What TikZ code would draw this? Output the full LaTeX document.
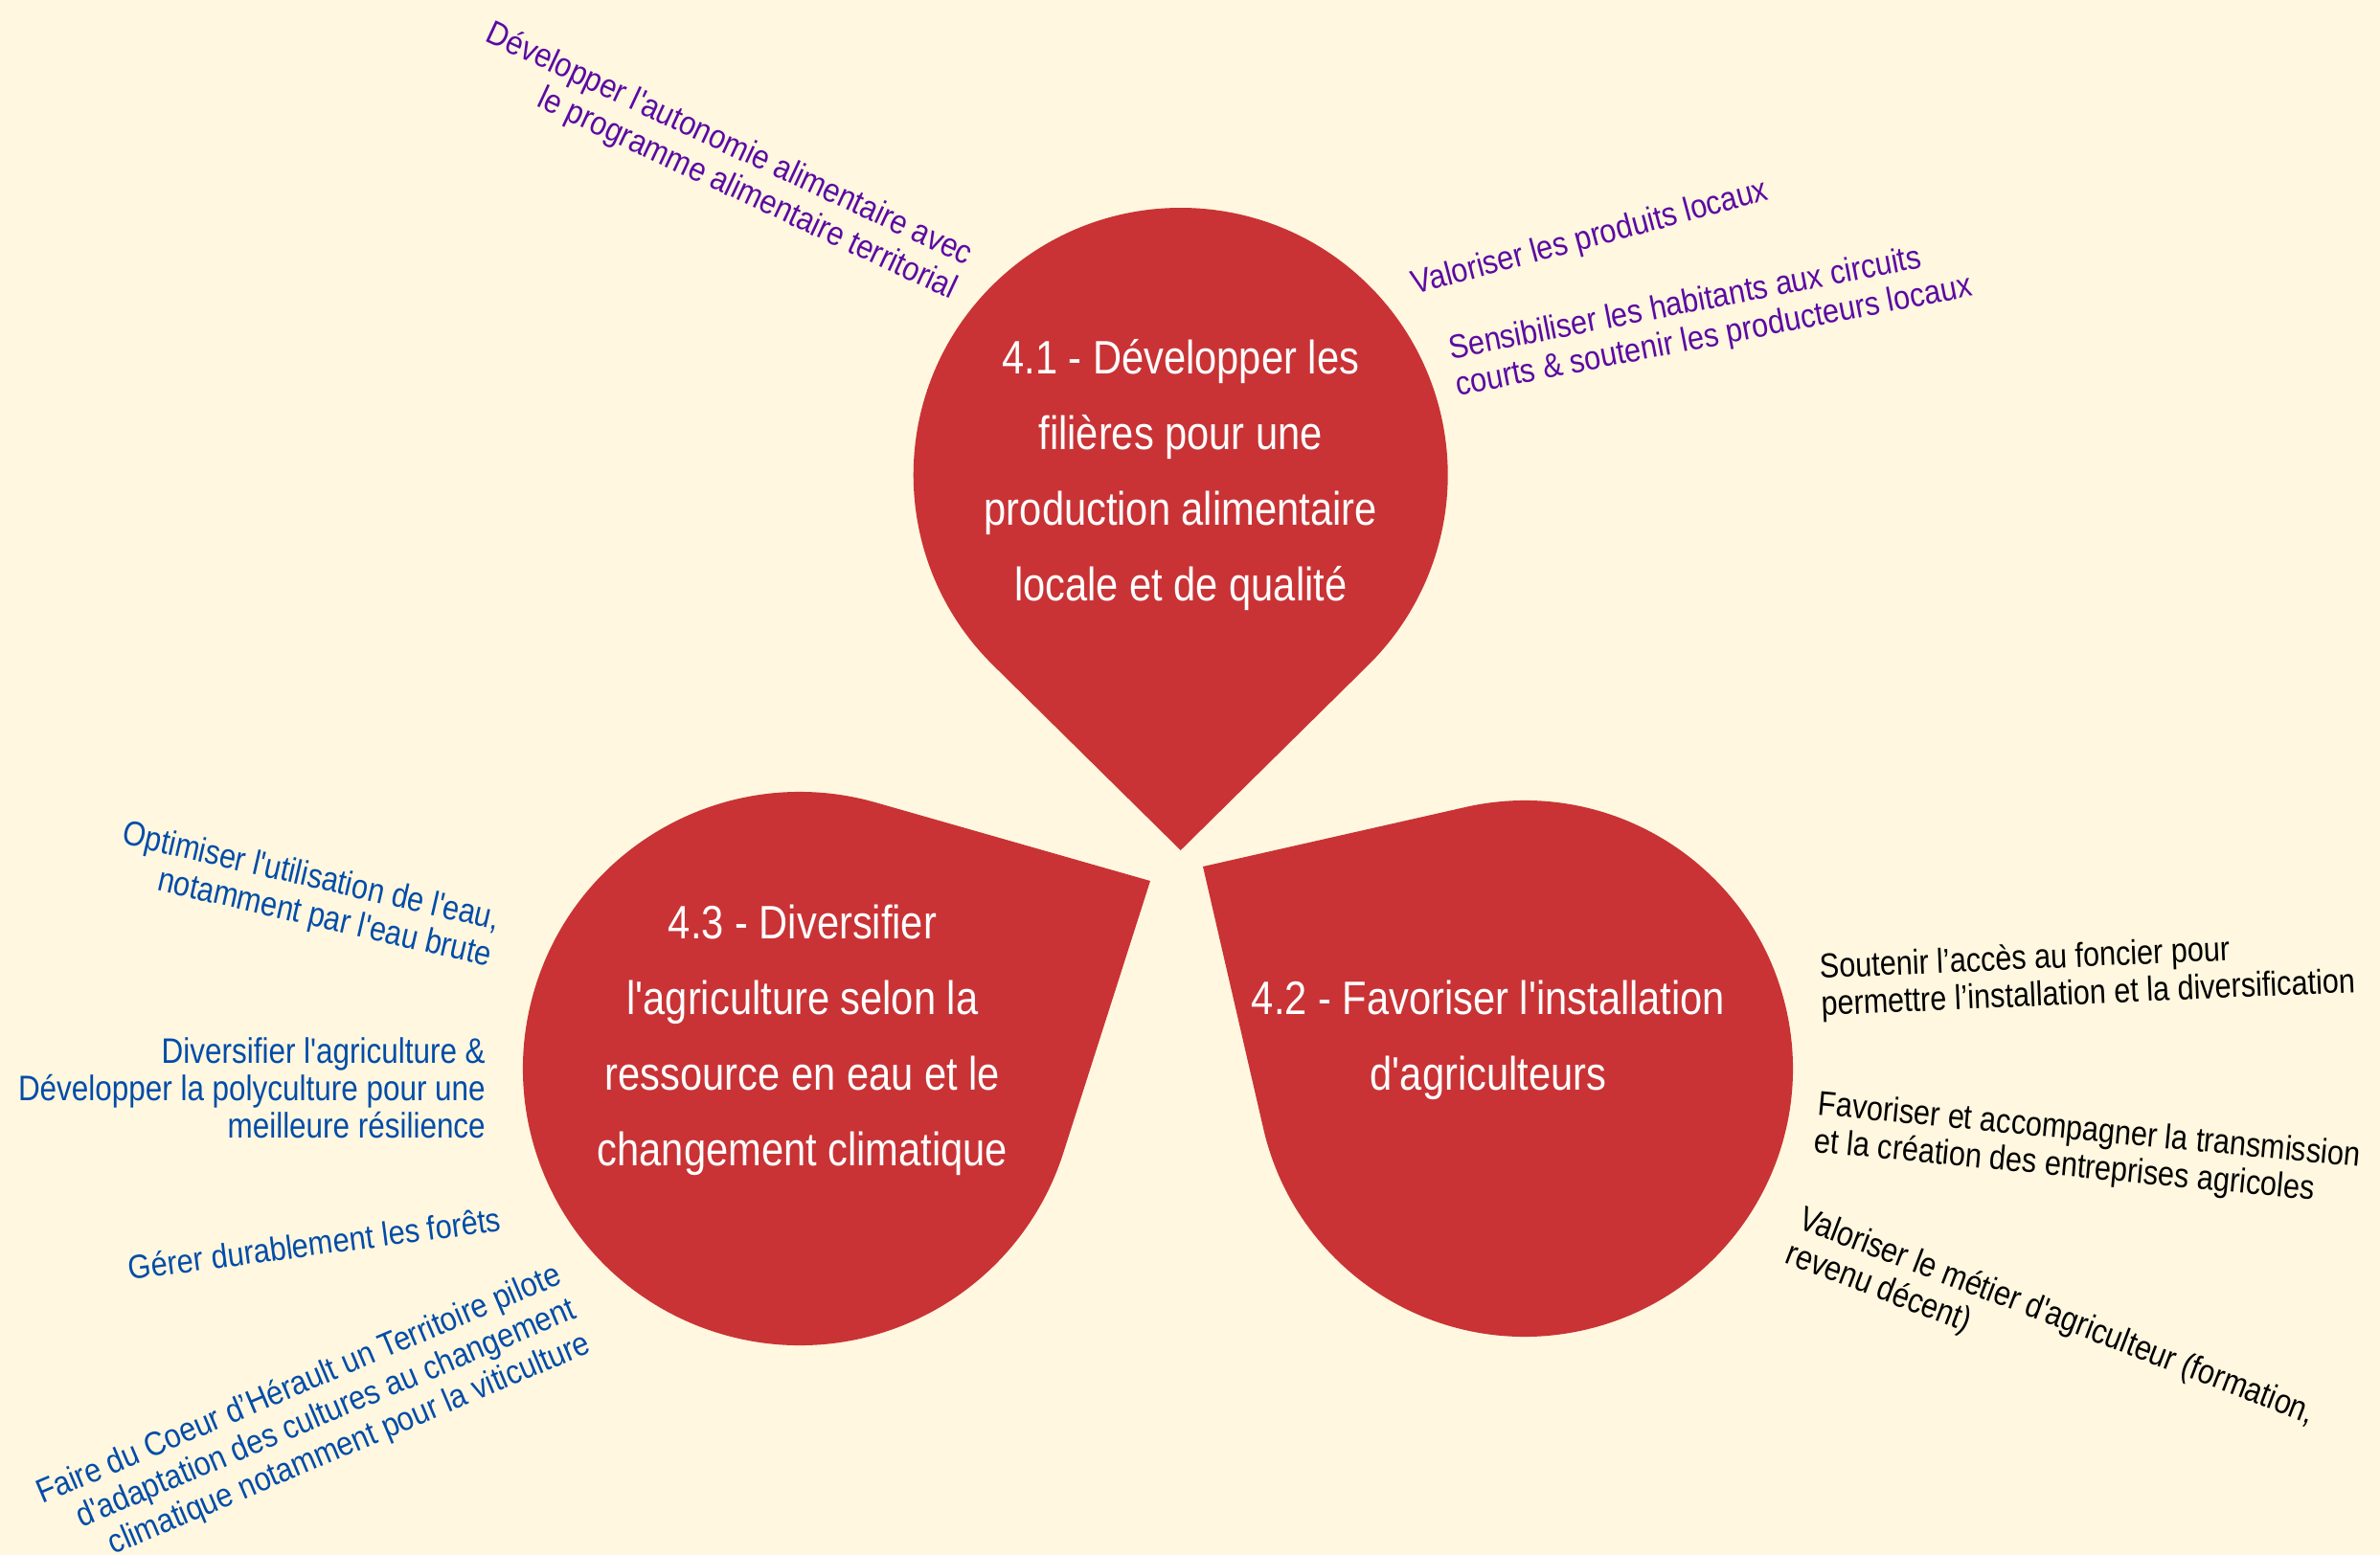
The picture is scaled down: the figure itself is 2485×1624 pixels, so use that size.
\documentclass[tikz,border=0pt]{standalone}
\usepackage{fontspec}
\setmainfont{Liberation Sans}[FakeStretch=0.85,Ligatures=TeXOff]
\newfontfamily\arialn{Liberation Sans}[FakeStretch=0.88,Ligatures=TeXOff]
\usetikzlibrary{calc}
\definecolor{bgc}{HTML}{FFF7DF}
\definecolor{dropred}{HTML}{C93335}
\definecolor{purp}{HTML}{5B0AA3}
\definecolor{blu}{HTML}{004CA8}
\tikzset{
  drop/.style={fill=dropred},
  title/.style={text=white, font=\fontsize{49}{79}\selectfont, align=center, inner sep=0pt},
  ptext/.style={text=purp, font=\arialn\fontsize{35}{39}\selectfont, inner sep=0pt},
  btext/.style={text=blu, font=\fontsize{36}{39}\selectfont, inner sep=0pt},
  batext/.style={text=blu, font=\arialn\fontsize{35}{39}\selectfont, inner sep=0pt},
  ktext/.style={text=black, font=\fontsize{36}{39}\selectfont, inner sep=0pt},
}
\begin{document}
\begin{tikzpicture}[x=1pt,y=-1pt]
\useasboundingbox (0,0) rectangle (2485,1624);
\fill[bgc] (0,0) rectangle (2485,1624);
% centres and tips of the three drops
\coordinate (C1) at (1232.7,496);
\coordinate (C2) at (1592,1116);
\coordinate (C3) at (835,1116);
\coordinate (T1) at (1232.7,888);
\coordinate (T2) at (1256,905);
\coordinate (T3) at (1201,920);
% drops
\fill[drop] (T1) -- ($(C1)+(134.6:279)$) arc[start angle=134.6, end angle=405.4, radius=279] -- cycle;
\fill[drop] (T2) -- ($(C2)+(257.2:280)$) arc[start angle=257.2, end angle=527.0, radius=280] -- cycle;
\fill[drop] (T3) -- ($(C3)+(377.7:289)$) arc[start angle=377.7, end angle=645.9, radius=289] -- cycle;
% titles
\node[title, anchor=north] (h1) at (1232.7,354) {4.1 - Développer les\\filières pour une\\production alimentaire\\locale et de qualité};
\node[title, anchor=north] (h2) at (1554,1024) {4.2 - Favoriser l'installation\\d'agriculteurs};
\node[title, anchor=north] (h3) at (838,945) {4.3 - Diversifier\\l'agriculture selon la\\ressource en eau et le\\changement climatique};
% purple
\node[ptext, anchor=north east, rotate=-25, align=right] (tA) at (1020,254) {Développer l'autonomie alimentaire avec\\le programme alimentaire territorial};
\node[ptext, anchor=north west, rotate=15] (tB) at (1471,283) {Valoriser les produits locaux};
\node[ptext, anchor=north west, rotate=11, align=left] (tC) at (1510,350) {Sensibiliser les habitants aux circuits\\courts \& soutenir les producteurs locaux};
% blue
\node[btext, anchor=north east, rotate=-13, align=right] (tD) at (525,946) {Optimiser l'utilisation de l'eau,\\notamment par l'eau brute};
\node[btext, anchor=north east, align=right, font=\fontsize{37}{39}\selectfont] (tE) at (507,1083) {Diversifier l'agriculture \&\\Développer la polyculture pour une\\meilleure résilience};
\node[batext, anchor=north west, rotate=7.5] (tF) at (132,1311) {Gérer durablement les forêts};
\node[batext, anchor=north east, rotate=23, align=right] (tG) at (578,1316) {Faire du Coeur d’Hérault un Territoire pilote\\d'adaptation des cultures au changement\\climatique notamment pour la viticulture};
% black
\node[ktext, anchor=north west, rotate=2.5, align=left] (tH) at (1899,995) {Soutenir l’accès au foncier pour\\permettre l’installation et la diversification};
\node[ktext, anchor=north west, rotate=-5.5, align=left] (tI) at (1900,1138) {Favoriser et accompagner la transmission\\et la création des entreprises agricoles};
\node[ktext, anchor=north west, rotate=-21, align=left] (tJ) at (1886,1257) {Valoriser le métier d'agriculteur (formation,\\revenu décent)};
\end{tikzpicture}
\end{document}
